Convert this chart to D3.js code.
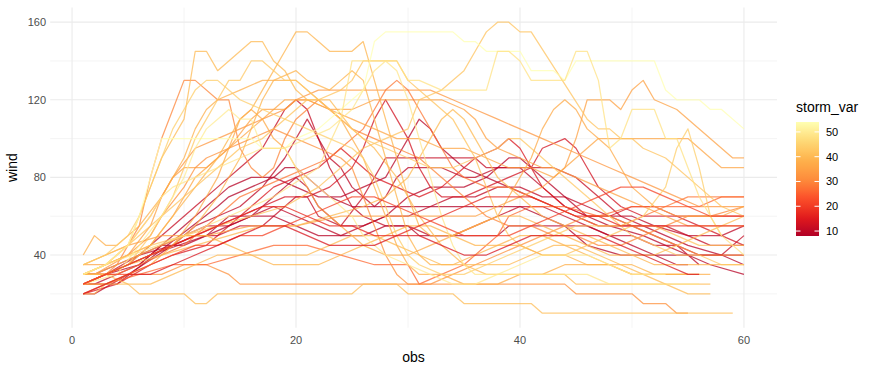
<!DOCTYPE html>
<html>
<head>
<meta charset="utf-8">
<script src="https://cdn.jsdelivr.net/npm/d3@7"></script>
<style>
  body { margin: 0; background: #ffffff; }
  svg { display: block; font-family: "Liberation Sans", Arial, sans-serif; }
</style>
</head>
<body>
<div id="chart"></div>
<script>
const dimensions = { width: 875, height: 371 };
const panel = { left: 50.2, right: 777, top: 7.6, bottom: 327.8 };

// storm_var of each track (same order as windTracks)
const stormVar = [
  8, 9, 10, 11, 9, 10, 11, 13, 14, 9,
  30, 33, 35, 28, 32, 35, 26, 32, 36,
  40, 39, 42, 38, 41, 39, 43, 40, 37, 42, 39, 40, 44,
  54, 50, 48, 49,
  17, 21, 14
];

// wind readings per track, as [obs, wind]
const windTracks = [
  [[1,25],[4,25],[13,65],[14,70],[18,80],[19,85],[20,85],[22,75],[23,70],[25,65],[30,65],[35,65],[40,65],[44,55],[46,45],[49,40],[60,40]],
  [[1,25],[3,30],[7,40],[12,50],[14,60],[16,60],[17,65],[18,70],[19,75],[20,80],[21,75],[22,65],[23,60],[24,55],[26,55],[28,60],[30,70],[32,75],[35,75],[37,80],[39,90],[40,90],[42,80],[44,70],[46,60],[48,55],[51,50],[53,45],[55,40],[57,35],[60,30]],
  [[1,20],[2,20],[5,30],[9,45],[11,55],[13,60],[15,65],[17,75],[19,90],[20,100],[21,110],[22,100],[23,90],[24,85],[25,75],[26,70],[27,65],[28,70],[29,80],[30,85],[33,85],[35,80],[36,80],[38,85],[40,85],[42,75],[44,65],[46,60],[50,60],[52,55],[55,50],[58,50],[60,55]],
  [[1,30],[3,30],[6,40],[9,45],[11,50],[13,50],[15,55],[17,55],[19,65],[20,70],[21,70],[22,60],[24,55],[26,70],[27,80],[28,90],[36,90],[37,85],[43,85],[45,80],[47,70],[49,60],[51,55],[53,55],[55,50],[57,45],[60,45]],
  [[1,25],[3,30],[6,35],[8,45],[10,55],[12,65],[14,75],[16,80],[18,80],[20,75],[22,70],[24,70],[26,75],[28,80],[29,90],[30,100],[31,110],[32,105],[33,95],[35,85],[37,80],[39,75],[41,70],[43,65],[45,60],[47,55],[49,55],[51,55],[53,50],[55,45],[58,40],[60,35]],
  [[1,25],[2,25],[4,30],[6,35],[8,45],[10,50],[12,55],[14,55],[16,60],[18,65],[20,60],[22,55],[24,50],[26,55],[28,60],[30,60],[32,65],[34,70],[36,70],[38,75],[40,75],[42,70],[44,70],[46,65],[48,60],[50,55],[52,50],[54,45],[55,40],[56,35]],
  [[1,25],[3,30],[5,35],[7,45],[9,55],[11,65],[13,75],[15,85],[17,95],[18,105],[19,115],[20,120],[21,115],[22,100],[23,85],[24,75],[25,65],[26,60],[28,55],[30,55],[32,50],[34,50],[36,55],[38,60],[40,65],[42,65],[44,60],[46,55],[48,50],[50,50],[52,45],[54,45],[56,40],[58,40],[60,50]],
  [[1,30],[3,30],[5,35],[7,40],[9,45],[11,50],[13,55],[15,60],[17,65],[19,70],[21,70],[23,75],[25,85],[26,95],[27,110],[28,120],[29,110],[30,100],[31,85],[32,75],[33,70],[35,70],[37,75],[39,80],[41,85],[42,95],[44,100],[45,95],[46,85],[47,75],[49,65],[51,60],[54,60],[56,55],[58,50],[60,45]],
  [[1,20],[4,25],[7,35],[9,40],[12,45],[14,55],[16,65],[18,75],[20,80],[22,85],[23,90],[24,95],[25,90],[27,80],[29,75],[31,70],[33,75],[35,85],[36,90],[38,95],[39,100],[40,95],[41,85],[42,75],[44,65],[46,60],[48,60],[50,65],[52,65],[54,60],[56,60],[58,60],[60,60]],
  [[1,30],[2,30],[4,35],[6,40],[8,45],[10,45],[12,50],[14,55],[16,60],[18,60],[20,55],[22,50],[24,50],[26,50],[28,55],[30,55],[31,50],[38,50],[39,55],[44,55],[46,55],[48,50],[50,45],[52,40],[54,35],[55,35]],
  [[1,25],[3,30],[4,35],[6,55],[7,80],[8,100],[9,115],[10,130],[11,130],[13,120],[14,120],[15,95],[16,85],[17,80],[18,85],[19,100],[20,110],[21,115],[22,120],[23,115],[25,105],[27,100],[29,95],[31,90],[33,80],[35,70],[37,60],[39,55],[41,55],[43,50],[45,50],[47,45],[49,45],[51,50],[53,55],[55,60],[57,60],[60,65]],
  [[1,30],[3,35],[5,45],[7,60],[9,80],[11,95],[13,100],[15,105],[17,110],[19,115],[20,120],[22,125],[24,125],[26,125],[28,125],[30,125],[32,125],[34,120],[36,115],[38,110],[40,105],[42,100],[44,95],[46,90],[48,85],[50,80],[52,75],[54,70],[56,65],[58,65],[60,65]],
  [[1,30],[3,35],[5,40],[7,55],[8,70],[9,80],[10,85],[12,85],[14,95],[16,110],[17,115],[19,115],[20,120],[21,120],[23,115],[25,115],[27,120],[29,120],[31,120],[33,120],[35,115],[36,110],[37,100],[38,95],[40,90],[42,85],[43,85],[45,80],[47,75],[49,70],[51,65],[53,60],[55,55],[57,55],[60,55]],
  [[1,30],[4,30],[6,35],[8,40],[10,45],[12,55],[14,65],[15,70],[17,75],[19,80],[21,85],[23,90],[24,95],[26,105],[27,115],[28,125],[29,130],[30,125],[31,115],[32,105],[33,95],[34,85],[35,80],[37,75],[39,75],[41,70],[43,65],[45,60],[47,55],[49,55],[51,60],[53,65],[55,70],[57,70],[60,70]],
  [[1,25],[3,25],[5,30],[8,30],[10,35],[12,35],[14,30],[15,25],[44,25],[45,20],[50,20],[51,15],[53,15],[54,10],[55,10]],
  [[1,35],[3,40],[5,45],[8,50],[12,50],[16,55],[20,55],[24,60],[28,60],[32,60],[36,60],[38,65],[40,70],[42,75],[43,80],[44,85],[45,100],[46,120],[48,120],[49,115],[50,125],[51,130],[52,120],[54,115],[59,90],[60,90]],
  [[1,20],[3,25],[6,30],[9,35],[12,35],[15,40],[18,45],[21,45],[24,40],[27,35],[30,35],[31,25],[33,30],[35,35],[37,45],[38,50],[39,60],[41,65],[44,65],[47,60],[50,65],[53,65],[56,65],[58,70],[60,70]],
  [[1,30],[2,30],[5,40],[7,50],[8,60],[10,75],[11,85],[12,90],[14,95],[16,100],[18,105],[20,100],[22,95],[24,90],[25,85],[26,70],[27,55],[28,40],[29,30],[30,25],[32,25],[34,30],[36,35],[38,40],[40,45],[42,50],[44,55],[46,60],[48,60],[50,55],[52,50],[54,45],[56,40],[58,40],[60,40]],
  [[1,35],[3,35],[5,40],[7,45],[9,60],[10,70],[11,80],[12,85],[14,95],[16,105],[18,115],[19,120],[21,120],[23,115],[25,110],[27,105],[29,100],[31,100],[33,95],[35,95],[37,90],[39,85],[41,85],[43,80],[45,90],[47,100],[49,100],[52,100],[54,100],[55,100],[57,90],[58,85],[60,85]],
  [[1,30],[3,35],[5,45],[6,60],[7,75],[8,90],[10,110],[11,145],[12,145],[13,135],[16,150],[17,150],[18,140],[19,135],[20,125],[21,120],[23,120],[25,105],[27,95],[29,80],[31,60],[33,45],[35,35],[37,30],[40,30],[44,30],[45,25],[50,25],[56,25],[57,25]],
  [[1,30],[3,30],[5,35],[7,45],[9,60],[11,75],[13,90],[15,110],[16,115],[17,125],[18,135],[19,145],[20,155],[21,155],[22,150],[23,145],[25,145],[26,150],[27,130],[28,110],[29,90],[30,70],[31,55],[32,50],[34,50],[36,55],[38,60],[40,60],[42,55],[44,50],[46,45],[48,40],[50,40],[52,35],[54,35],[56,35],[58,35],[60,35]],
  [[1,30],[3,35],[5,40],[7,45],[10,50],[13,55],[16,60],[19,65],[22,75],[24,85],[26,95],[28,100],[30,105],[31,120],[33,125],[35,135],[36,145],[37,155],[38,160],[39,160],[40,155],[41,155],[46,110],[47,105],[48,105],[49,100],[50,100],[51,95],[53,90],[56,75],[58,65],[60,60]],
  [[1,40],[2,50],[3,45],[4,45],[6,55],[8,70],[10,90],[11,105],[12,115],[13,120],[15,125],[17,130],[19,130],[20,130],[22,120],[24,110],[25,100],[26,90],[27,75],[28,60],[29,45],[30,35],[31,30],[33,30],[35,25],[38,25],[40,30],[42,30],[44,35],[46,35],[48,35],[50,30],[52,30],[54,30],[57,30]],
  [[1,20],[2,20],[3,25],[5,25],[6,20],[10,20],[11,15],[12,15],[13,20],[25,20],[26,25],[29,25],[30,20],[34,20],[35,15],[41,15],[42,10],[59,10]],
  [[1,30],[3,30],[5,35],[7,40],[9,45],[11,55],[13,70],[15,90],[16,105],[17,120],[18,130],[20,135],[21,130],[23,125],[24,130],[25,135],[26,130],[27,110],[28,90],[29,70],[30,50],[31,40],[32,35],[34,35],[36,40],[38,45],[40,50],[42,50],[44,45],[46,40],[48,35],[50,30],[52,30],[54,30],[55,30]],
  [[1,25],[3,30],[5,35],[7,50],[9,70],[10,85],[11,100],[12,110],[13,120],[14,130],[15,130],[16,140],[17,140],[18,135],[19,130],[20,130],[21,125],[22,120],[24,110],[26,100],[28,95],[30,90],[32,85],[34,85],[36,90],[38,95],[39,100],[40,100],[42,90],[44,80],[46,70],[48,60],[50,50],[52,45],[54,40],[56,40],[58,35],[60,35]],
  [[1,25],[3,30],[5,35],[8,40],[11,45],[14,50],[17,55],[20,55],[23,60],[26,65],[28,70],[30,80],[31,90],[32,100],[33,110],[34,115],[35,110],[36,100],[37,90],[38,80],[40,70],[42,60],[44,55],[46,50],[48,45],[50,40],[52,40],[54,45],[56,50],[58,55],[60,60]],
  [[1,25],[3,25],[5,30],[7,35],[9,45],[11,60],[13,80],[14,95],[15,110],[16,115],[17,110],[18,100],[19,95],[20,85],[21,75],[22,65],[24,55],[26,45],[28,40],[30,40],[32,45],[34,50],[36,55],[38,60],[39,70],[40,80],[41,90],[42,105],[43,115],[44,120],[45,115],[46,105],[47,100],[48,95],[49,85],[50,75],[52,65],[54,60],[56,60],[58,60],[60,65]],
  [[1,35],[3,40],[5,45],[7,55],[9,65],[11,75],[13,85],[15,95],[17,100],[19,110],[20,115],[21,120],[22,120],[24,125],[25,130],[26,140],[27,140],[28,140],[29,140],[30,130],[32,120],[34,110],[35,100],[36,90],[37,75],[38,60],[39,50],[40,45],[42,40],[44,40],[46,45],[48,50],[50,55],[52,55],[54,50],[56,45],[58,45],[60,45]],
  [[1,30],[2,30],[4,35],[6,40],[8,45],[10,50],[12,50],[14,45],[16,40],[18,35],[20,35],[22,35],[24,40],[26,45],[28,50],[30,55],[32,55],[34,50],[36,45],[38,45],[40,45],[42,40],[44,40],[46,35],[48,35],[50,35],[52,30],[55,30],[56,30]],
  [[1,30],[3,30],[5,25],[7,25],[9,30],[11,35],[13,40],[15,40],[17,40],[19,40],[21,40],[23,45],[25,50],[27,50],[29,45],[31,40],[33,35],[35,35],[37,35],[39,35],[41,40],[43,45],[45,45],[47,40],[49,35],[51,30],[53,25],[55,20],[57,20]],
  [[1,35],[3,40],[5,50],[6,60],[7,75],[8,90],[9,105],[10,115],[11,125],[12,130],[13,130],[14,125],[15,120],[17,115],[19,110],[21,105],[23,100],[25,95],[26,90],[27,80],[28,65],[29,50],[30,40],[31,35],[33,30],[35,30],[37,35],[39,40],[41,45],[43,50],[45,55],[47,55],[49,55],[51,60],[53,75],[54,95],[55,105],[56,85],[57,60],[58,50]],
  [[1,30],[3,35],[5,45],[6,60],[7,80],[8,100],[16,100],[17,95],[19,95],[20,100],[22,105],[24,115],[25,120],[26,125],[27,150],[28,155],[34,155],[35,150],[36,150],[37,145],[40,145],[41,135],[43,135],[44,130],[45,140],[52,140],[53,125],[54,120],[56,120],[57,115],[58,115],[60,105]],
  [[1,25],[4,30],[6,45],[8,60],[10,80],[11,95],[12,105],[13,110],[14,115],[15,110],[16,110],[17,95],[19,95],[20,85],[22,75],[24,65],[25,60],[26,50],[28,40],[30,35],[32,30],[34,25],[36,25],[38,30],[40,35],[42,40],[44,40],[46,40],[48,35],[50,30],[52,30],[53,30]],
  [[1,30],[3,35],[10,50],[14,60],[18,70],[22,85],[24,110],[25,140],[29,140],[30,130],[31,130],[33,125],[35,125],[37,125],[38,145],[39,145],[40,140],[41,130],[43,130],[44,130],[45,145],[46,145],[47,130],[48,95],[49,100],[50,115],[52,115],[53,100],[54,100],[55,85],[56,70],[57,60],[58,50],[60,40]],
  [[1,30],[3,35],[5,45],[7,60],[8,70],[9,75],[11,80],[13,85],[15,90],[17,95],[19,95],[21,100],[23,105],[24,110],[25,115],[26,125],[27,135],[28,140],[29,135],[30,120],[31,100],[32,80],[33,60],[34,45],[35,35],[36,30],[38,30],[40,30],[42,30],[44,30],[46,30],[48,25],[50,25],[52,25],[54,25],[56,25]],
  [[1,25],[3,30],[5,35],[7,40],[9,45],[11,50],[13,55],[15,60],[17,65],[19,65],[21,60],[23,55],[25,55],[27,50],[29,50],[31,55],[33,60],[35,65],[37,70],[39,70],[41,70],[43,65],[45,60],[47,60],[49,55],[51,55],[53,55],[55,55],[57,55],[60,55]],
  [[1,25],[3,30],[5,30],[7,35],[9,40],[11,45],[13,45],[15,50],[17,50],[19,55],[21,60],[23,65],[25,70],[27,70],[29,65],[31,60],[33,55],[35,50],[37,50],[39,50],[41,55],[43,60],[45,65],[47,70],[49,75],[51,75],[53,70],[55,65],[57,60],[60,60]],
  [[1,20],[3,25],[5,30],[7,30],[9,35],[11,40],[13,45],[15,50],[17,55],[19,55],[21,50],[23,45],[25,45],[27,45],[29,50],[31,50],[33,45],[35,40],[37,40],[39,45],[41,50],[43,50],[45,50],[47,50],[49,45],[51,40],[53,35],[55,30],[56,30]]
];

const xTicks = [0, 20, 40, 60];
const xMinor = [10, 30, 50];
const yTicks = [40, 80, 120, 160];
const yMinor = [20, 60, 100, 140];
const legendTicks = [10, 20, 30, 40, 50];
const paletteYlOrRd = ["#B10026", "#E31A1C", "#FC4E2A", "#FD8D3C", "#FEB24C", "#FED976", "#FFFFB2"];

const svg = d3.select("#chart")
  .append("svg")
  .attr("width", dimensions.width)
  .attr("height", dimensions.height);

const allPoints = windTracks.flat();
const xExt = d3.extent(allPoints, (d) => d[0]);
const yExt = d3.extent(allPoints, (d) => d[1]);
const xPad = (xExt[1] - xExt[0]) * 0.05;
const yPad = (yExt[1] - yExt[0]) * 0.05;

const x = d3.scaleLinear()
  .domain([xExt[0] - xPad, xExt[1] + xPad])
  .range([panel.left, panel.right]);

const y = d3.scaleLinear()
  .domain([yExt[0] - yPad, yExt[1] + yPad])
  .range([panel.bottom, panel.top]);

const vExt = d3.extent(stormVar);
const colorScale = d3.scaleLinear()
  .domain(paletteYlOrRd.map((c, i) => vExt[0] + (i / (paletteYlOrRd.length - 1)) * (vExt[1] - vExt[0])))
  .range(paletteYlOrRd)
  .interpolate(d3.interpolateLab);

// grid
const grid = svg.append("g");
grid.selectAll(".xminor").data(xMinor).join("line")
  .attr("x1", (d) => x(d)).attr("x2", (d) => x(d))
  .attr("y1", panel.top).attr("y2", panel.bottom)
  .attr("stroke", "#ebebeb").attr("stroke-width", 0.55);
grid.selectAll(".yminor").data(yMinor).join("line")
  .attr("y1", (d) => y(d)).attr("y2", (d) => y(d))
  .attr("x1", panel.left).attr("x2", panel.right)
  .attr("stroke", "#ebebeb").attr("stroke-width", 0.55);
grid.selectAll(".xmajor").data(xTicks).join("line")
  .attr("x1", (d) => x(d)).attr("x2", (d) => x(d))
  .attr("y1", panel.top).attr("y2", panel.bottom)
  .attr("stroke", "#ebebeb").attr("stroke-width", 1.1);
grid.selectAll(".ymajor").data(yTicks).join("line")
  .attr("y1", (d) => y(d)).attr("y2", (d) => y(d))
  .attr("x1", panel.left).attr("x2", panel.right)
  .attr("stroke", "#ebebeb").attr("stroke-width", 1.1);

// lines
const line = d3.line()
  .x((d) => x(d[0]))
  .y((d) => y(d[1]));

svg.append("g")
  .selectAll("path")
  .data(windTracks)
  .join("path")
  .attr("d", line)
  .attr("fill", "none")
  .attr("stroke", (d, i) => colorScale(stormVar[i]))
  .attr("stroke-width", 1.25)
  .attr("stroke-linejoin", "round")
  .attr("stroke-opacity", 0.75);

// axes text
svg.append("g")
  .selectAll("text")
  .data(xTicks)
  .join("text")
  .attr("x", (d) => x(d))
  .attr("y", 344)
  .attr("text-anchor", "middle")
  .attr("font-size", 11)
  .attr("fill", "#4d4d4d")
  .text((d) => d);

svg.append("g")
  .selectAll("text")
  .data(yTicks)
  .join("text")
  .attr("x", 46)
  .attr("y", (d) => y(d) + 4)
  .attr("text-anchor", "end")
  .attr("font-size", 11)
  .attr("fill", "#4d4d4d")
  .text((d) => d);

svg.append("text")
  .attr("x", (panel.left + panel.right) / 2)
  .attr("y", 362)
  .attr("text-anchor", "middle")
  .attr("font-size", 14)
  .attr("fill", "#000")
  .text("obs");

svg.append("text")
  .attr("transform", `translate(17,${(panel.top + panel.bottom) / 2}) rotate(-90)`)
  .attr("text-anchor", "middle")
  .attr("font-size", 14)
  .attr("fill", "#000")
  .text("wind");

// legend
const legend = { x: 796, w: 23, top: 122, bottom: 236 };
const lg = svg.append("g");

lg.append("text")
  .attr("x", legend.x)
  .attr("y", 112)
  .attr("font-size", 14)
  .attr("fill", "#000")
  .text("storm_var");

const defs = svg.append("defs");
const grad = defs.append("linearGradient")
  .attr("id", "barGrad")
  .attr("x1", 0).attr("y1", 1).attr("x2", 0).attr("y2", 0);
d3.range(0, 1.0001, 0.05).forEach((t) => {
  grad.append("stop")
    .attr("offset", t)
    .attr("stop-color", colorScale(vExt[0] + t * (vExt[1] - vExt[0])));
});

const barScale = d3.scaleLinear().domain(vExt).range([legend.bottom, legend.top]);

lg.append("rect")
  .attr("x", legend.x)
  .attr("y", legend.top)
  .attr("width", legend.w)
  .attr("height", legend.bottom - legend.top)
  .attr("fill", "url(#barGrad)");

lg.selectAll(".tickL").data(legendTicks).join("line")
  .attr("x1", legend.x).attr("x2", legend.x + 4.5)
  .attr("y1", (d) => barScale(d)).attr("y2", (d) => barScale(d))
  .attr("stroke", "#ffffff").attr("stroke-width", 1);
lg.selectAll(".tickR").data(legendTicks).join("line")
  .attr("x1", legend.x + legend.w - 4.5).attr("x2", legend.x + legend.w)
  .attr("y1", (d) => barScale(d)).attr("y2", (d) => barScale(d))
  .attr("stroke", "#ffffff").attr("stroke-width", 1);

lg.selectAll(".lab").data(legendTicks).join("text")
  .attr("x", legend.x + legend.w + 7)
  .attr("y", (d) => barScale(d) + 4)
  .attr("font-size", 11)
  .attr("fill", "#000")
  .text((d) => d);
</script>
</body>
</html>
